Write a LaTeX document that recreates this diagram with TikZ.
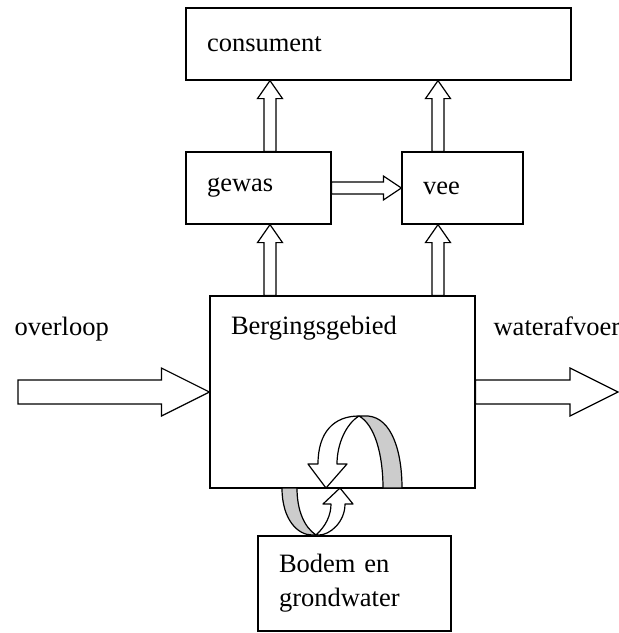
\documentclass[tikz,border=0pt]{standalone}
\usepackage{fontspec}
\setmainfont{Liberation Serif}
\usetikzlibrary{calc}

\begin{document}
\begin{tikzpicture}[x=1pt,y=-1pt,line width=1.2pt,font=\fontsize{26.5}{34}\selectfont,
  blok/.style={draw,rectangle,align=left,inner xsep=21pt,inner ysep=0pt,minimum height=72pt},
  pijl/.style n args={3}{fill=white,line join=miter,to path={
    ($(\tikztostart)!#1!-90:(\tikztotarget)$)
    -- ($(\tikztotarget)!#3!(\tikztostart)!#1!-90:(\tikztotarget)$)
    -- ($(\tikztotarget)!#3!(\tikztostart)!#2!-90:(\tikztotarget)$)
    -- (\tikztotarget)
    -- ($(\tikztotarget)!#3!(\tikztostart)!#2!90:(\tikztotarget)$)
    -- ($(\tikztotarget)!#3!(\tikztostart)!#1!90:(\tikztotarget)$)
    -- ($(\tikztostart)!#1!90:(\tikztotarget)$) -- cycle}}]
\tikzstyle{tekst} = [inner sep=0pt, anchor=base west]
\tikzstyle{lus} = [draw, line join=round]

\useasboundingbox (0,0) rectangle (619,633);

\node[blok, text width=343pt] (consument) at (378.5,44) {consument};
\node[blok, text width=103pt] (gewas) at (258.5,188) {gewas};
\node[blok, text width=79pt] (vee) at (462.5,188) {vee};
\node[blok, minimum width=265pt, minimum height=192pt] (berging) at (342.5,392) {};
\node[blok, text width=151pt, minimum height=95pt] (bodem) at (354.5,583.5) {Bodem en\\grondwater};

\node[tekst] (bergtekst) at ([xshift=21pt,yshift=-39pt]berging.north west) {Bergingsgebied};
\node[tekst] (overloop) at (14,335) {overloop};
\node[tekst] (waterafvoer) at (493,335) {waterafvoer};

\coordinate (kolA) at (270,0);
\coordinate (kolB) at (438,0);
\coordinate (instroom) at (18,392);
\coordinate (afvoer) at (618,392);

\draw[pijl={6pt}{12.5pt}{18pt}] (gewas.north -| kolA) to (consument.south -| kolA);
\draw[pijl={6pt}{12.5pt}{18pt}] (vee.north -| kolB) to (consument.south -| kolB);
\draw[pijl={6pt}{12.5pt}{18pt}] (berging.north -| kolA) to (gewas.south -| kolA);
\draw[pijl={6pt}{12.5pt}{18pt}] (berging.north -| kolB) to (vee.south -| kolB);
\draw[pijl={6pt}{12pt}{18pt}] (gewas.east) to (vee.west);
\draw[pijl={12pt}{24pt}{48pt}] (instroom) to (berging.west);
\draw[pijl={12pt}{24pt}{48pt}] (berging.east) to (afvoer);

\filldraw[lus, fill=black!20] (359,416) .. controls (375,425) and (383,455) .. (383,488) -- (402,488) .. controls (402,452) and (392,418) .. (368,416) -- cycle;
\filldraw[lus, fill=white] (326,488) -- (308,464) -- (318,464) .. controls (318,432) and (334,416) .. (359,416) .. controls (346,424) and (337,444) .. (337,464) -- (347,464) -- cycle;
\filldraw[lus, fill=black!20] (282,488) .. controls (282,520) and (298,535) .. (312,535) -- (316,535) .. controls (304,527) and (297,510) .. (297,488) -- cycle;
\filldraw[lus, fill=white] (316,535) .. controls (326,526) and (331,515) .. (331,504) -- (323,504) -- (340,488) -- (353,504) -- (345,504) .. controls (345,522) and (330,535) .. (319,535) -- cycle;

\end{tikzpicture}
\end{document}
